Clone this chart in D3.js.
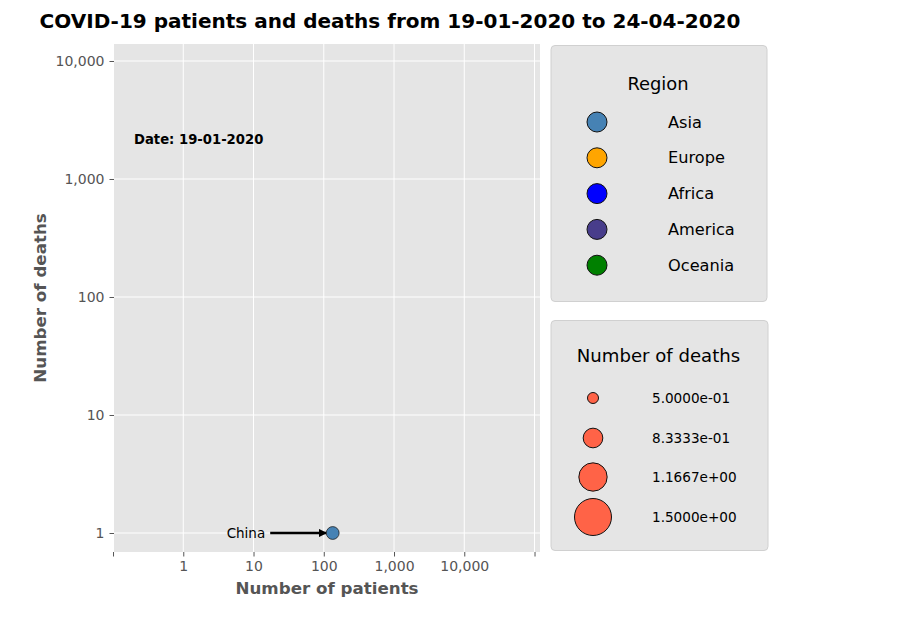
<!DOCTYPE html>
<html><head><meta charset="utf-8">
<script src="https://cdn.jsdelivr.net/npm/d3@7"></script>
<style>body{margin:0;background:#fff}svg{display:block;font-family:"DejaVu Sans",sans-serif}</style>
</head><body>
<svg id="c" width="900" height="620"></svg>
<script>
const countries = ["China"];
const patients = [134];
const deaths = [1];
const regionsOfPoints = ["Asia"];
const regions = ["Asia","Europe","Africa","America","Oceania"];
const regionColors = ["#4682b4","#ffa500","#0000ff","#483d8b","#008000"];
const sizeLegendValues = [0.5, 0.83333, 1.16667, 1.5];
const sizeLegendLabels = ["5.0000e-01","8.3333e-01","1.1667e+00","1.5000e+00"];
const xTickValues = [0.1,1,10,100,1000,10000,100000];
const xTickLabels = ["","1","10","100","1,000","10,000",""];
const yTickValues = [1,10,100,1000,10000];
const yTickLabels = ["1","10","100","1,000","10,000"];
const dateLabel = "Date: 19-01-2020";

const svg = d3.select("#c");
const L=114,R=540,T=44,B=552;
const x = d3.scaleLog().domain([Math.pow(10,-0.986), Math.pow(10,5.078)]).range([L,R]);
const y = d3.scaleLog().domain([Math.pow(10,-0.161), Math.pow(10,4.144)]).range([B,T]);
const color = d3.scaleOrdinal().domain(regions).range(regionColors);
const sizeR = d3.scaleLinear().domain([0.5,1.5]).range([5.5,18.5]);

svg.append("text").attr("x",390).attr("y",28).attr("text-anchor","middle")
  .attr("font-size",20).attr("font-weight","bold").text("COVID-19 patients and deaths from 19-01-2020 to 24-04-2020");

svg.append("rect").attr("x",L).attr("y",T).attr("width",R-L).attr("height",B-T).attr("fill","#e5e5e5");

const g = svg.append("g");
g.selectAll(".gx").data(xTickValues).join("line").attr("x1",d=>x(d)).attr("x2",d=>x(d))
  .attr("y1",T).attr("y2",B).attr("stroke","#fff").attr("stroke-width",1);
g.selectAll(".gy").data(yTickValues).join("line").attr("y1",d=>y(d)).attr("y2",d=>y(d))
  .attr("x1",L).attr("x2",R).attr("stroke","#fff").attr("stroke-width",1);

const xAxis = d3.axisBottom(x).tickValues(xTickValues).tickFormat((d,i)=>xTickLabels[i]).tickSize(4.5).tickPadding(5);
const xa = svg.append("g").attr("transform",`translate(0,${B})`).call(xAxis);
xa.select(".domain").remove();
xa.selectAll("line").attr("stroke","#555");
xa.selectAll("text").attr("fill","#555").attr("font-size",14).attr("font-family","DejaVu Sans");

const yAxis = d3.axisLeft(y).tickValues(yTickValues).tickFormat((d,i)=>yTickLabels[i]).tickSize(4.5).tickPadding(5);
const ya = svg.append("g").attr("transform",`translate(${L},0)`).call(yAxis);
ya.select(".domain").remove();
ya.selectAll("line").attr("stroke","#555");
ya.selectAll("text").attr("fill","#555").attr("font-size",14).attr("font-family","DejaVu Sans");

svg.append("text").attr("x",(L+R)/2).attr("y",594).attr("text-anchor","middle")
  .attr("font-size",16.7).attr("font-weight","bold").attr("fill","#555").text("Number of patients");
svg.append("text").attr("transform",`translate(46,${(T+B)/2}) rotate(-90)`).attr("text-anchor","middle")
  .attr("font-size",16.7).attr("font-weight","bold").attr("fill","#555").text("Number of deaths");

svg.append("text").attr("x",134).attr("y",144).attr("font-size",13.2).attr("font-weight","bold").text(dateLabel);

// arrowhead
svg.append("defs").append("marker").attr("id","ah").attr("viewBox","0 0 10 10").attr("refX",9).attr("refY",5)
  .attr("markerWidth",3.4).attr("markerHeight",3.2).attr("markerUnits","strokeWidth").attr("orient","auto")
  .append("path").attr("d","M0,0 L10,5 L0,10 z").attr("fill","#000");

const pts = countries.map((c,i)=>({c, p:patients[i], d:deaths[i], r:regionsOfPoints[i]}));
const pr = 6.4;
pts.forEach(d=>{
  const cx=x(d.p), cy=y(d.d);
  svg.append("line").attr("x1",cx-62.5).attr("y1",cy).attr("x2",cx-pr).attr("y2",cy)
    .attr("stroke","#000").attr("stroke-width",2.6).attr("marker-end","url(#ah)");
  svg.append("text").attr("x",cx-67.5).attr("y",cy+4.7).attr("text-anchor","end").attr("font-size",13.5).text(d.c);
});
svg.selectAll(".pt").data(pts).join("circle").attr("cx",d=>x(d.p)).attr("cy",d=>y(d.d)).attr("r",pr)
  .attr("fill",d=>color(d.r)).attr("stroke","#222").attr("stroke-width",0.8);

// Region legend
svg.append("rect").attr("x",551).attr("y",45.5).attr("width",216).attr("height",256).attr("rx",4)
  .attr("fill","#e5e5e5").attr("stroke","#d0d0d0");
svg.append("text").attr("x",658).attr("y",90).attr("text-anchor","middle").attr("font-size",17.9).text("Region");
regions.forEach((r,i)=>{
  const cy=122+i*35.8;
  svg.append("circle").attr("cx",597).attr("cy",cy).attr("r",10).attr("fill",color(r)).attr("stroke","#111").attr("stroke-width",1);
  svg.append("text").attr("x",668).attr("y",cy+5.5).attr("font-size",16.2).text(r);
});

// Size legend
svg.append("rect").attr("x",551).attr("y",320.5).attr("width",217).attr("height",230).attr("rx",4)
  .attr("fill","#e5e5e5").attr("stroke","#d0d0d0");
svg.append("text").attr("x",658.5).attr("y",362).attr("text-anchor","middle").attr("font-size",18.1).text("Number of deaths");
const sy=[398,438,477,517];
sizeLegendValues.forEach((v,i)=>{
  svg.append("circle").attr("cx",593).attr("cy",sy[i]).attr("r",sizeR(v)).attr("fill","#ff6347").attr("stroke","#111").attr("stroke-width",1);
  svg.append("text").attr("x",652).attr("y",sy[i]+4.8).attr("font-size",13.6).text(sizeLegendLabels[i]);
});
</script>
</body></html>
